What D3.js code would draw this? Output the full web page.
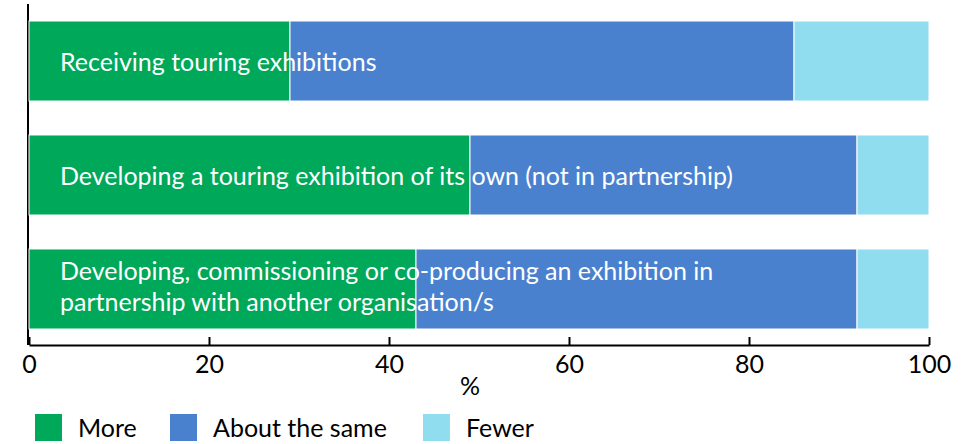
<!DOCTYPE html>
<html>
<head>
<meta charset="utf-8">
<script src="https://cdn.jsdelivr.net/npm/d3@7"></script>
<style>
  html, body { margin: 0; padding: 0; background: #fff; }
  svg { display: block; font-family: Lato, "Open Sans", sans-serif; }
</style>
</head>
<body>
<svg id="chart" width="973" height="444"></svg>
<script>
// Survey items (top to bottom), each split into three response shares (%)
const categories = [
  ["Receiving touring exhibitions"],
  ["Developing a touring exhibition of its own (not in partnership)"],
  ["Developing, commissioning or co-producing an exhibition in", "partnership with another organisation/s"]
];
const seriesNames = ["More", "About the same", "Fewer"];
const more = [29, 49, 43];
const aboutSame = [56, 43, 49];
const fewer = [15, 8, 8];
const xTicks = [0, 20, 40, 60, 80, 100];
const colors = ["#00a85a", "#4a81cf", "#90ddf0"];

const svg = d3.select("#chart");
const W = 973;
const fs = 25;

const x = d3.scaleLinear().domain([0, 100]).range([29, 929]);
const y = d3.scaleBand()
  .domain(d3.range(categories.length))
  .range([21, 329])
  .paddingInner(0.298)
  .paddingOuter(0);

const stackData = categories.map((c, i) => {
  const o = { i };
  o[seriesNames[0]] = more[i];
  o[seriesNames[1]] = aboutSame[i];
  o[seriesNames[2]] = fewer[i];
  return o;
});
const stacked = d3.stack().keys(seriesNames)(stackData);

// left axis line
svg.append("line")
  .attr("x1", x(0) - 1).attr("x2", x(0) - 1)
  .attr("y1", 4).attr("y2", 345)
  .attr("stroke", "#000").attr("stroke-width", 2);

// stacked bars
stacked.forEach((layer, k) => {
  svg.append("g").selectAll("rect")
    .data(layer)
    .join("rect")
    .attr("x", d => x(d[0]))
    .attr("y", d => y(d.data.i))
    .attr("width", d => x(d[1]) - x(d[0]))
    .attr("height", y.bandwidth())
    .attr("fill", colors[k])
    .attr("stroke", "#fff")
    .attr("stroke-width", 1);
});

// category labels inside bars
const labels = svg.append("g");
categories.forEach((lines, i) => {
  const cy = y(i) + y.bandwidth() / 2 + 1;
  const lh = 31;
  lines.forEach((t, j) => {
    labels.append("text")
      .attr("x", 60)
      .attr("y", cy + (j - (lines.length - 1) / 2) * lh - (lines.length > 1 ? 3 : 0))
      .attr("dy", "0.35em")
      .attr("fill", "#fff")
      .attr("font-size", fs)
      .text(t);
  });
});

// x axis with upward ticks
const axisY = 345;
const xAxis = d3.axisBottom(x).tickValues(xTicks).tickSize(0).tickPadding(0);
const ax = svg.append("g").attr("transform", `translate(0,${axisY})`).call(xAxis);
ax.select(".domain").attr("stroke", "#000").attr("stroke-width", 2);
ax.selectAll(".tick text")
  .attr("y", 19).attr("dy", "0.35em")
  .attr("font-size", fs).attr("fill", "#000")
  .attr("font-family", "Lato, sans-serif");
ax.selectAll(".tick").append("line")
  .attr("y1", 0).attr("y2", -8)
  .attr("stroke", "#000").attr("stroke-width", 2);

svg.append("text")
  .attr("x", x(49)).attr("y", 386).attr("dy", "0.35em")
  .attr("text-anchor", "middle").attr("font-size", fs).text("%");

// legend
const legendPos = [35, 170, 423];
const lg = svg.append("g");
seriesNames.forEach((s, k) => {
  const g = lg.append("g").attr("transform", `translate(${legendPos[k]},414)`);
  g.append("rect").attr("width", 27).attr("height", 27).attr("fill", colors[k]);
  g.append("text").attr("x", 43).attr("y", 14).attr("dy", "0.35em")
    .attr("font-size", fs).text(s);
});
</script>
</body>
</html>
